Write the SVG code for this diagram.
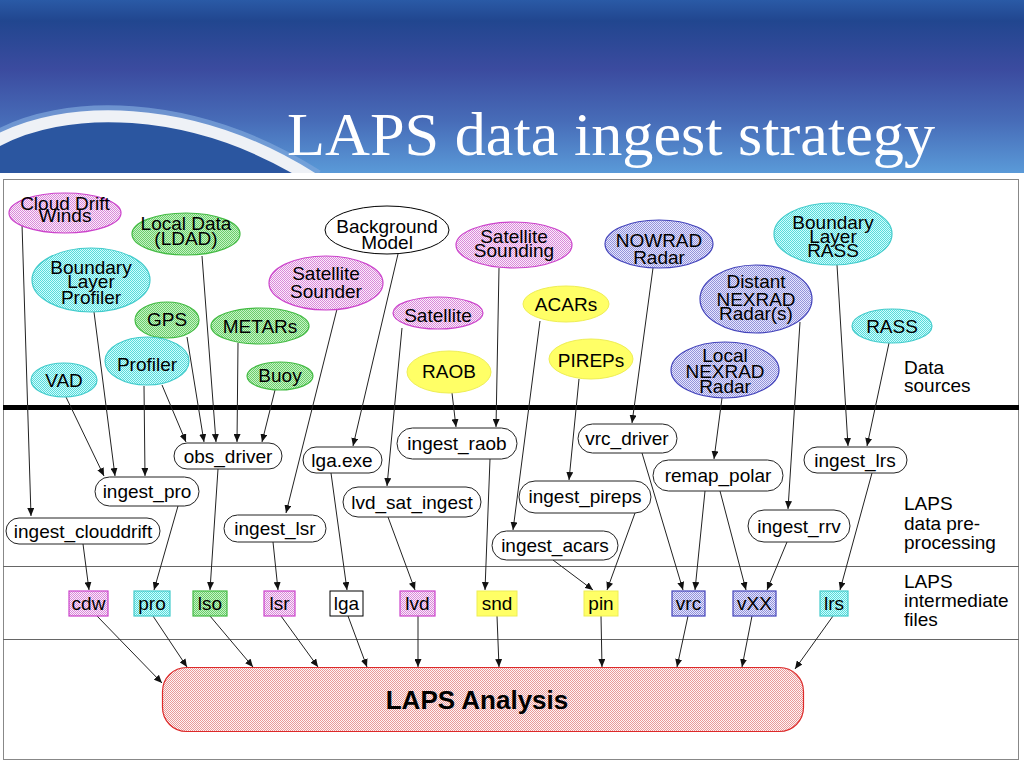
<svg xmlns="http://www.w3.org/2000/svg" width="1024" height="768" viewBox="0 0 1024 768">
<defs>
<linearGradient id="hdr" x1="0" y1="0" x2="0" y2="1">
<stop offset="0" stop-color="#2a5aa6"/>
<stop offset="0.12" stop-color="#21468f"/>
<stop offset="0.4" stop-color="#3b4b9f"/>
<stop offset="0.7" stop-color="#476cb8"/>
<stop offset="1" stop-color="#5a9ad8"/>
</linearGradient>
<pattern id="pMag" width="2" height="2" patternUnits="userSpaceOnUse"><rect width="2" height="2" fill="#fbecfb"/><rect width="1" height="1" fill="#d98ad9"/><rect x="1" y="1" width="1" height="1" fill="#d98ad9"/></pattern>
<pattern id="pGrn" width="2" height="2" patternUnits="userSpaceOnUse"><rect width="2" height="2" fill="#c4f4c4"/><rect width="1" height="1" fill="#6ccc6c"/><rect x="1" y="1" width="1" height="1" fill="#6ccc6c"/></pattern>
<pattern id="pCyn" width="2" height="2" patternUnits="userSpaceOnUse"><rect width="2" height="2" fill="#ccffff"/><rect width="1" height="1" fill="#5cd8d8"/><rect x="1" y="1" width="1" height="1" fill="#5cd8d8"/></pattern>
<pattern id="pBlu" width="2" height="2" patternUnits="userSpaceOnUse"><rect width="2" height="2" fill="#e4e4ff"/><rect width="1" height="1" fill="#9494d8"/><rect x="1" y="1" width="1" height="1" fill="#9494d8"/></pattern>
<pattern id="pRed" width="2" height="2" patternUnits="userSpaceOnUse"><rect width="2" height="2" fill="#fff4f4"/><rect width="1" height="1" fill="#e89a9a"/><rect x="1" y="1" width="1" height="1" fill="#e89a9a"/></pattern>
<marker id="ah" markerUnits="userSpaceOnUse" markerWidth="8" markerHeight="7" refX="8" refY="3.5" orient="auto"><path d="M0,0 L8,3.5 L0,7 z" fill="#111"/></marker>
<clipPath id="hclip"><rect x="0" y="0" width="1024" height="173"/></clipPath>
</defs>
<style>
.t{font-family:"Liberation Sans",Arial,sans-serif;font-size:19px;text-anchor:middle;fill:#000}
.s{font-family:"Liberation Sans",Arial,sans-serif;font-size:19px;text-anchor:start;fill:#000}
.mag{fill:url(#pMag);stroke:#cc44cc;stroke-width:1.2}
.grn{fill:url(#pGrn);stroke:#44bb44;stroke-width:1.2}
.cyn{fill:url(#pCyn);stroke:#44cccc;stroke-width:1.2}
.blu{fill:url(#pBlu);stroke:#4444bb;stroke-width:1.2}
.yel{fill:#ffff66;stroke:#eeee55;stroke-width:1}
.wht{fill:#fff;stroke:#000;stroke-width:1}
.pill{fill:#fff;stroke:#222;stroke-width:1}
.cn line{stroke:#222;stroke-width:1;marker-end:url(#ah)}
</style>
<rect width="1024" height="768" fill="#fff"/>
<g id="header" clip-path="url(#hclip)">
<rect x="0" y="0" width="1024" height="173" fill="url(#hdr)"/>
<path d="M-5,142 C60,105 190,100 315,180 L-5,180 z" fill="#2b56a0"/>
<path d="M-5,136 C60,99 190,94 318,175" fill="none" stroke="#7fa6dc" stroke-width="10" opacity="0.7"/>
<path d="M-5,142 C60,105 190,100 315,180" fill="none" stroke="#eef1f6" stroke-width="12"/>
<text x="287" y="155" textLength="648" lengthAdjust="spacingAndGlyphs" style="font-family:'Liberation Serif','Times New Roman',serif;font-size:62px;fill:#fff">LAPS data ingest strategy</text>
</g>
<rect x="3.5" y="179.5" width="1015" height="580" fill="#fff" stroke="#888" stroke-width="1"/>
<line x1="3" y1="407.5" x2="1019" y2="407.5" stroke="#000" stroke-width="5"/>
<line x1="3" y1="566.5" x2="1019" y2="566.5" stroke="#666" stroke-width="1"/>
<line x1="3" y1="639.5" x2="1019" y2="639.5" stroke="#666" stroke-width="1"/>
<g id="label-sources"><text class="s" x="904" y="374">Data</text><text class="s" x="904" y="392">sources</text></g>
<g id="label-preproc"><text class="s" x="904" y="510">LAPS</text><text class="s" x="904" y="530">data pre-</text><text class="s" x="904" y="549">processing</text></g>
<g id="label-files"><text class="s" x="904" y="588">LAPS</text><text class="s" x="904" y="607">intermediate</text><text class="s" x="904" y="626">files</text></g>

<g class="cn" id="connectors">
<line x1="22" y1="224" x2="31" y2="516"/>
<line x1="65" y1="395" x2="104" y2="476"/>
<line x1="94" y1="312" x2="115" y2="476"/>
<line x1="144" y1="386" x2="145" y2="476"/>
<line x1="162" y1="385" x2="186" y2="442"/>
<line x1="187" y1="337" x2="204" y2="442"/>
<line x1="202" y1="256" x2="216" y2="442"/>
<line x1="238" y1="343" x2="237" y2="442"/>
<line x1="275" y1="390" x2="262" y2="442"/>
<line x1="337" y1="309" x2="286" y2="513"/>
<line x1="398" y1="254" x2="353" y2="446"/>
<line x1="402" y1="328" x2="387" y2="486"/>
<line x1="452" y1="393" x2="456" y2="427"/>
<line x1="499" y1="268" x2="496" y2="427"/>
<line x1="540" y1="321" x2="513" y2="530"/>
<line x1="579" y1="379" x2="569" y2="480"/>
<line x1="653" y1="268" x2="632" y2="423"/>
<line x1="722" y1="398" x2="714" y2="459"/>
<line x1="800" y1="322" x2="788" y2="509"/>
<line x1="837" y1="265" x2="848" y2="446"/>
<line x1="889" y1="343" x2="867" y2="446"/>
<line x1="83" y1="544" x2="89" y2="590"/>
<line x1="178" y1="506" x2="154" y2="590"/>
<line x1="218" y1="469" x2="210" y2="590"/>
<line x1="273" y1="542" x2="278" y2="590"/>
<line x1="331" y1="473" x2="347" y2="590"/>
<line x1="388" y1="517" x2="415" y2="590"/>
<line x1="490" y1="459" x2="485" y2="590"/>
<line x1="553" y1="560" x2="593" y2="590"/>
<line x1="635" y1="513" x2="607" y2="590"/>
<line x1="642" y1="453" x2="683" y2="590"/>
<line x1="705" y1="491" x2="695" y2="590"/>
<line x1="720" y1="491" x2="746" y2="590"/>
<line x1="787" y1="542" x2="767" y2="590"/>
<line x1="872" y1="473" x2="840" y2="590"/>
<line x1="97" y1="616" x2="162" y2="683"/>
<line x1="153" y1="616" x2="187" y2="667"/>
<line x1="210" y1="616" x2="253" y2="667"/>
<line x1="281" y1="616" x2="318" y2="667"/>
<line x1="348" y1="616" x2="367" y2="667"/>
<line x1="418" y1="616" x2="418" y2="667"/>
<line x1="497" y1="616" x2="499" y2="667"/>
<line x1="601" y1="616" x2="602" y2="667"/>
<line x1="688" y1="616" x2="677" y2="667"/>
<line x1="752" y1="616" x2="742" y2="667"/>
<line x1="833" y1="616" x2="795" y2="669"/>
</g>

<g id="cloud-drift"><ellipse class="mag" cx="65" cy="213" rx="56" ry="20"/><text class="t" x="65" y="210">Cloud Drift</text><text class="t" x="65" y="222">Winds</text></g>
<g id="local-data"><ellipse class="grn" cx="186" cy="234" rx="54" ry="21"/><text class="t" x="186" y="230">Local Data</text><text class="t" x="186" y="245">(LDAD)</text></g>
<g id="bl-profiler"><ellipse class="cyn" cx="91" cy="280" rx="59" ry="32"/><text class="t" x="91" y="274">Boundary</text><text class="t" x="91" y="288">Layer</text><text class="t" x="91" y="304">Profiler</text></g>
<g id="gps"><ellipse class="grn" cx="167" cy="320" rx="32" ry="18"/><text class="t" x="167" y="326">GPS</text></g>
<g id="metars"><ellipse class="grn" cx="260" cy="326" rx="49" ry="18"/><text class="t" x="260" y="333">METARs</text></g>
<g id="profiler"><ellipse class="cyn" cx="147" cy="361" rx="42" ry="24"/><text class="t" x="147" y="371">Profiler</text></g>
<g id="vad"><ellipse class="cyn" cx="64" cy="380" rx="33" ry="17"/><text class="t" x="64" y="387">VAD</text></g>
<g id="buoy"><ellipse class="grn" cx="280" cy="376" rx="33" ry="14"/><text class="t" x="280" y="382">Buoy</text></g>
<g id="sat-sounder"><ellipse class="mag" cx="326" cy="283" rx="57" ry="27"/><text class="t" x="326" y="280">Satellite</text><text class="t" x="326" y="298">Sounder</text></g>
<g id="bg-model"><ellipse class="wht" cx="387" cy="230" rx="62" ry="24"/><text class="t" x="387" y="233">Background</text><text class="t" x="387" y="249">Model</text></g>
<g id="sat-sounding"><ellipse class="mag" cx="514" cy="245" rx="58" ry="23"/><text class="t" x="514" y="243">Satellite</text><text class="t" x="514" y="257">Sounding</text></g>
<g id="satellite"><ellipse class="mag" cx="438" cy="313" rx="45" ry="16"/><text class="t" x="438" y="322">Satellite</text></g>
<g id="acars"><ellipse class="yel" cx="566" cy="304" rx="43" ry="18"/><text class="t" x="566" y="311">ACARs</text></g>
<g id="raob"><ellipse class="yel" cx="449" cy="372" rx="42" ry="21"/><text class="t" x="449" y="378">RAOB</text></g>
<g id="pireps"><ellipse class="yel" cx="591" cy="359" rx="42" ry="20"/><text class="t" x="591" y="367">PIREPs</text></g>
<g id="nowrad"><ellipse class="blu" cx="659" cy="244" rx="54" ry="24"/><text class="t" x="659" y="247">NOWRAD</text><text class="t" x="659" y="264">Radar</text></g>
<g id="bl-rass"><ellipse class="cyn" cx="833" cy="234" rx="59" ry="31"/><text class="t" x="833" y="229">Boundary</text><text class="t" x="833" y="243">Layer</text><text class="t" x="833" y="257">RASS</text></g>
<g id="distant-nexrad"><ellipse class="blu" cx="756" cy="299" rx="56" ry="34"/><text class="t" x="756" y="288">Distant</text><text class="t" x="756" y="306">NEXRAD</text><text class="t" x="756" y="320">Radar(s)</text></g>
<g id="rass"><ellipse class="cyn" cx="892" cy="326" rx="40" ry="17"/><text class="t" x="892" y="333">RASS</text></g>
<g id="local-nexrad"><ellipse class="blu" cx="725" cy="370" rx="54" ry="28"/><text class="t" x="725" y="362">Local</text><text class="t" x="725" y="378">NEXRAD</text><text class="t" x="725" y="393">Radar</text></g>

<g id="obs_driver"><rect class="pill" x="174" y="443" width="108" height="26" rx="13"/><text class="t" x="228" y="463">obs_driver</text></g>
<g id="ingest_pro"><rect class="pill" x="95" y="477" width="104" height="29" rx="14.5"/><text class="t" x="147" y="498">ingest_pro</text></g>
<g id="ingest_clouddrift"><rect class="pill" x="6" y="518" width="154" height="26" rx="13"/><text class="t" x="83" y="538">ingest_clouddrift</text></g>
<g id="ingest_lsr"><rect class="pill" x="224" y="515" width="102" height="27" rx="13.5"/><text class="t" x="275" y="535">ingest_lsr</text></g>
<g id="lga_exe"><rect class="pill" x="303" y="447" width="79" height="26" rx="13"/><text class="t" x="342" y="467">lga.exe</text></g>
<g id="ingest_raob"><rect class="pill" x="397" y="428" width="120" height="31" rx="15.5"/><text class="t" x="457" y="450">ingest_raob</text></g>
<g id="lvd_sat_ingest"><rect class="pill" x="343" y="487" width="138" height="30" rx="15"/><text class="t" x="412" y="509">lvd_sat_ingest</text></g>
<g id="ingest_pireps"><rect class="pill" x="519" y="481" width="132" height="32" rx="16"/><text class="t" x="585" y="503">ingest_pireps</text></g>
<g id="ingest_acars"><rect class="pill" x="492" y="531" width="126" height="29" rx="14.5"/><text class="t" x="555" y="552">ingest_acars</text></g>
<g id="vrc_driver"><rect class="pill" x="578" y="424" width="99" height="29" rx="14.5"/><text class="t" x="627" y="445">vrc_driver</text></g>
<g id="remap_polar"><rect class="pill" x="653" y="460" width="130" height="31" rx="15.5"/><text class="t" x="718" y="482">remap_polar</text></g>
<g id="ingest_lrs"><rect class="pill" x="804" y="447" width="103" height="26" rx="13"/><text class="t" x="855" y="467">ingest_lrs</text></g>
<g id="ingest_rrv"><rect class="pill" x="748" y="510" width="102" height="32" rx="16"/><text class="t" x="799" y="533">ingest_rrv</text></g>

<g id="f-cdw"><rect class="mag" x="69" y="591" width="39" height="25"/><text class="t" x="88.5" y="610">cdw</text></g>
<g id="f-pro"><rect class="cyn" x="134" y="591" width="36" height="25"/><text class="t" x="152" y="610">pro</text></g>
<g id="f-lso"><rect class="grn" x="193" y="591" width="34" height="25"/><text class="t" x="210" y="610">lso</text></g>
<g id="f-lsr"><rect class="mag" x="264" y="591" width="31" height="25"/><text class="t" x="279.5" y="610">lsr</text></g>
<g id="f-lga"><rect class="wht" x="330" y="591" width="33" height="25"/><text class="t" x="346.5" y="610">lga</text></g>
<g id="f-lvd"><rect class="mag" x="400" y="591" width="35" height="25"/><text class="t" x="417.5" y="610">lvd</text></g>
<g id="f-snd"><rect class="yel" x="477" y="591" width="40" height="25"/><text class="t" x="497" y="610">snd</text></g>
<g id="f-pin"><rect class="yel" x="584" y="591" width="34" height="25"/><text class="t" x="601" y="610">pin</text></g>
<g id="f-vrc"><rect class="blu" x="672" y="591" width="33" height="25"/><text class="t" x="688.5" y="610">vrc</text></g>
<g id="f-vXX"><rect class="blu" x="733" y="591" width="43" height="25"/><text class="t" x="754.5" y="610">vXX</text></g>
<g id="f-lrs"><rect class="cyn" x="820" y="591" width="28" height="25"/><text class="t" x="834" y="610">lrs</text></g>

<g id="laps-analysis"><rect x="162.5" y="667.5" width="641" height="64" rx="24" fill="url(#pRed)" stroke="#dd2a2a" stroke-width="1.2"/><text class="t" x="477" y="709" style="font-size:26px;font-weight:bold">LAPS Analysis</text></g>
</svg>
